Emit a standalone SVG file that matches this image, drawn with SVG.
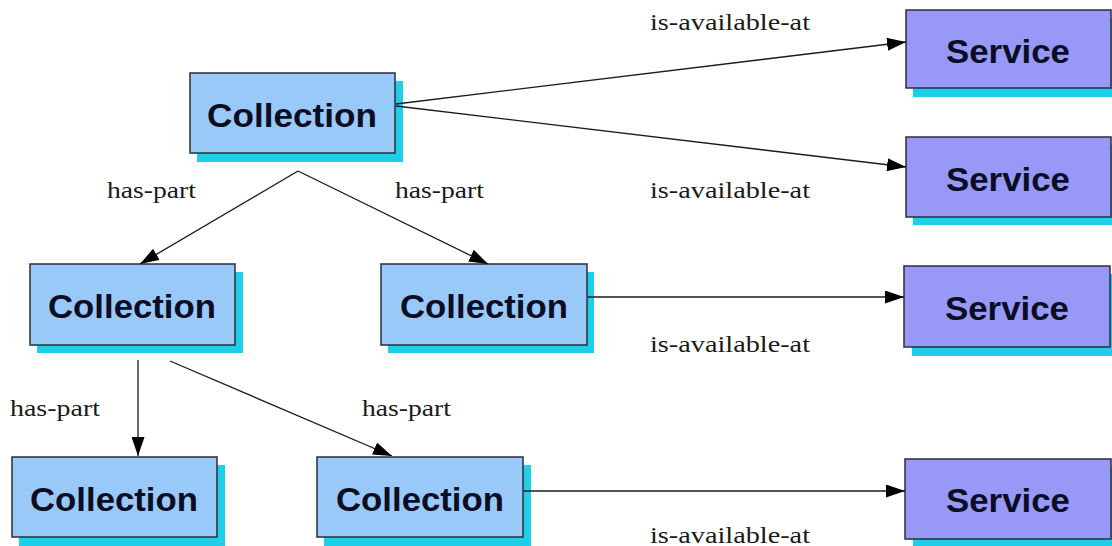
<svg xmlns="http://www.w3.org/2000/svg" width="1112" height="546" viewBox="0 0 1112 546">
<defs>
<style>
.shadow{fill:#1fcfe9;}
.coll{fill:#99c9f9;stroke:#2b2d3c;stroke-width:1.5;}
.serv{fill:#9898f6;stroke:#2b2d3c;stroke-width:1.5;}
.nt{font-family:"Liberation Sans",Arial,sans-serif;font-weight:bold;font-size:33px;fill:#0b0d22;text-anchor:middle;}
.lbl{font-family:"Liberation Serif","Times New Roman",serif;font-size:23px;fill:#1a1a1a;}
.edge{stroke:#1a1a1a;stroke-width:1.3;fill:none;marker-end:url(#ah);}
</style>
<marker id="ah" markerUnits="userSpaceOnUse" markerWidth="19" markerHeight="13" viewBox="0 0 19 13" refX="19" refY="6.5" orient="auto">
<path d="M0,0 L19,6.5 L0,13 Z" fill="#000"/>
</marker>
</defs>
<rect width="1112" height="546" fill="#ffffff"/>
<g id="collection-top">
<rect class="shadow" x="197" y="81" width="206" height="81"/>
<rect class="coll" x="190" y="73" width="205" height="80"/>
<text class="nt" x="292" y="127" textLength="170" lengthAdjust="spacingAndGlyphs">Collection</text>
</g>
<g id="collection-mid-left">
<rect class="shadow" x="37" y="272" width="206" height="81"/>
<rect class="coll" x="30" y="264" width="205" height="81"/>
<text class="nt" x="132" y="318" textLength="168" lengthAdjust="spacingAndGlyphs">Collection</text>
</g>
<g id="collection-mid-right">
<rect class="shadow" x="388" y="272" width="206" height="81"/>
<rect class="coll" x="381" y="264" width="206" height="81"/>
<text class="nt" x="484" y="318" textLength="168" lengthAdjust="spacingAndGlyphs">Collection</text>
</g>
<g id="collection-bottom-left">
<rect class="shadow" x="19" y="465" width="206" height="81"/>
<rect class="coll" x="12" y="457" width="205" height="80"/>
<text class="nt" x="114" y="511" textLength="168" lengthAdjust="spacingAndGlyphs">Collection</text>
</g>
<g id="collection-bottom-mid">
<rect class="shadow" x="324" y="465" width="207" height="81"/>
<rect class="coll" x="317" y="457" width="206" height="80"/>
<text class="nt" x="420" y="511" textLength="168" lengthAdjust="spacingAndGlyphs">Collection</text>
</g>
<g id="service-1">
<rect class="shadow" x="913" y="18" width="205" height="79"/>
<rect class="serv" x="906" y="10" width="205" height="78"/>
<text class="nt" x="1008" y="63" textLength="124" lengthAdjust="spacingAndGlyphs">Service</text>
</g>
<g id="service-2">
<rect class="shadow" x="913" y="145" width="205" height="80"/>
<rect class="serv" x="906" y="137" width="205" height="80"/>
<text class="nt" x="1008" y="191" textLength="124" lengthAdjust="spacingAndGlyphs">Service</text>
</g>
<g id="service-3">
<rect class="shadow" x="912" y="274" width="205" height="82"/>
<rect class="serv" x="904" y="266" width="206" height="81"/>
<text class="nt" x="1007" y="320" textLength="124" lengthAdjust="spacingAndGlyphs">Service</text>
</g>
<g id="service-4">
<rect class="shadow" x="913" y="467" width="205" height="82"/>
<rect class="serv" x="905" y="459" width="206" height="80"/>
<text class="nt" x="1008" y="512" textLength="124" lengthAdjust="spacingAndGlyphs">Service</text>
</g>
<g id="connectors">
<line class="edge" x1="396" y1="104" x2="906" y2="42"/>
<line class="edge" x1="396" y1="106" x2="906" y2="167"/>
<line class="edge" x1="298" y1="171" x2="140" y2="264"/>
<line class="edge" x1="298" y1="171" x2="488" y2="264"/>
<line class="edge" x1="138" y1="360" x2="138" y2="456"/>
<line class="edge" x1="170" y1="361" x2="392" y2="456"/>
<line class="edge" x1="588" y1="297" x2="904" y2="297"/>
<line class="edge" x1="524" y1="491" x2="905" y2="491"/>
<text class="lbl" x="650" y="30" textLength="160" lengthAdjust="spacingAndGlyphs">is-available-at</text>
<text class="lbl" x="650" y="198" textLength="160" lengthAdjust="spacingAndGlyphs">is-available-at</text>
<text class="lbl" x="650" y="352" textLength="160" lengthAdjust="spacingAndGlyphs">is-available-at</text>
<text class="lbl" x="650" y="543" textLength="160" lengthAdjust="spacingAndGlyphs">is-available-at</text>
<text class="lbl" x="107" y="198" textLength="89" lengthAdjust="spacingAndGlyphs">has-part</text>
<text class="lbl" x="395" y="198" textLength="89" lengthAdjust="spacingAndGlyphs">has-part</text>
<text class="lbl" x="10" y="416" textLength="90" lengthAdjust="spacingAndGlyphs">has-part</text>
<text class="lbl" x="362" y="416" textLength="89" lengthAdjust="spacingAndGlyphs">has-part</text>
</g>
</svg>
